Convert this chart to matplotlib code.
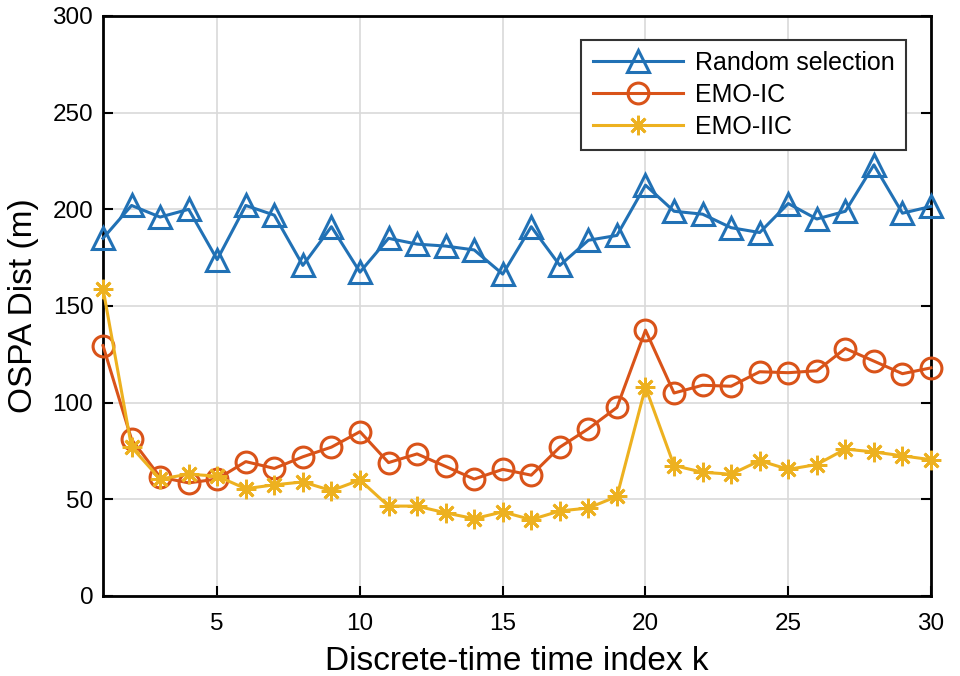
import matplotlib
matplotlib.use("Agg")
import matplotlib.pyplot as plt

k = list(range(1, 31))
random_sel = [185, 202, 196, 200, 174, 202, 197, 171, 191, 167.5,
              185, 182, 181, 179, 166.5, 191, 171, 184, 186.5, 212.5,
              199, 197.5, 190.5, 188, 203, 195, 199, 223, 198, 201.5]
emo_ic = [129.5, 81, 61.5, 58.5, 60.5, 69.5, 66, 72, 77, 85,
          69, 73.5, 67, 60.5, 65.5, 62.5, 77, 86.5, 97.5, 137.5,
          105, 109, 108.5, 116, 115.5, 116.5, 128, 121.5, 115, 118]
emo_iic = [159, 77, 60.5, 63, 62, 55.5, 57.5, 59, 54.5, 60,
           46.5, 46.5, 43, 40, 43.5, 39.5, 44, 45.5, 51.5, 108,
           67.5, 64, 63, 70, 65.5, 68, 76, 74.5, 72.5, 70.5]

plt.rcParams['font.family'] = ['Liberation Sans', 'DejaVu Sans']

fig = plt.figure(figsize=(9.6, 6.76), dpi=100)
ax = fig.add_axes([103/960, 1-596/676, (931-103)/960, (596-16)/676])

c1, c2, c3 = '#2171b5', '#D95319', '#EDB120'
ax.plot(k, random_sel, color=c1, lw=2.2, marker='^', ms=16, mfc='none', mew=2.2,
        label='Random selection', zorder=3, clip_on=False)
ax.plot(k, emo_ic, color=c2, lw=2.2, marker='o', ms=15, mfc='none', mew=2.2,
        label='EMO-IC', zorder=3, clip_on=False)
ax.plot(k, emo_iic, color=c3, lw=2.2, marker=(8, 2, 0), ms=14, mfc=c3, mew=2.0,
        label='EMO-IIC', zorder=3, clip_on=False)

ax.set_xlim(1, 30)
ax.set_ylim(0, 300)
ax.set_xticks([5, 10, 15, 20, 25, 30])
ax.set_yticks([0, 50, 100, 150, 200, 250, 300])
ax.grid(True, color='#d9d9d9', lw=1.2)
ax.set_axisbelow(True)
ax.tick_params(direction='in', length=7, width=1.5, labelsize=17.5, top=False, right=True,
               colors='black')
ax.tick_params(axis='x', pad=12)
ax.tick_params(axis='y', pad=7)
for s in ax.spines.values():
    s.set_linewidth(2)
ax.set_xlabel('Discrete-time time index k', fontsize=24, labelpad=8)
ax.set_ylabel('OSPA Dist (m)', fontsize=24, labelpad=10)

leg = ax.legend(loc='upper right', bbox_to_anchor=((906-103)/828, (596-40)/580), fontsize=18,
                frameon=True, fancybox=False, edgecolor='#333333', framealpha=1,
                borderaxespad=0, handlelength=3.6, borderpad=0.45, labelspacing=0.32,
                handletextpad=0.5)
leg.get_frame().set_linewidth(1.5)

fig.savefig('out.png', dpi=100)
